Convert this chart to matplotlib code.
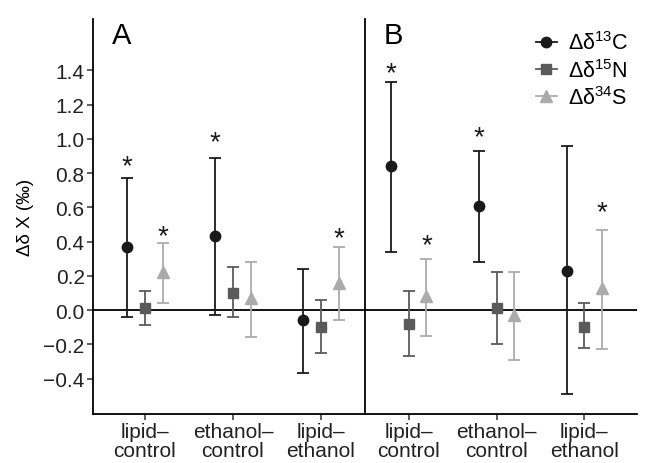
import numpy as np
import matplotlib
matplotlib.use("Agg")
import matplotlib.pyplot as plt
from matplotlib.lines import Line2D

plt.rcParams["font.family"] = ["Liberation Sans", "DejaVu Sans"]
plt.rcParams["mathtext.fontset"] = "custom"
plt.rcParams["mathtext.rm"] = "Liberation Sans"

# categories and series
categories = ["lipid\u2013\ncontrol", "ethanol\u2013\ncontrol", "lipid\u2013\nethanol"]
isotopes = ["C", "N", "S"]
labels = ["\u0394\u03b4$^{13}$C", "\u0394\u03b4$^{15}$N", "\u0394\u03b4$^{34}$S"]

# panel A: mean, lower, upper per isotope and category
a_mean = {"C": [0.37, 0.43, -0.06], "N": [0.01, 0.10, -0.10], "S": [0.22, 0.07, 0.16]}
a_low = {"C": [-0.04, -0.03, -0.37], "N": [-0.09, -0.04, -0.25], "S": [0.04, -0.16, -0.06]}
a_high = {"C": [0.77, 0.89, 0.24], "N": [0.11, 0.25, 0.06], "S": [0.39, 0.28, 0.37]}

# panel B
b_mean = {"C": [0.84, 0.61, 0.23], "N": [-0.08, 0.01, -0.10], "S": [0.08, -0.03, 0.13]}
b_low = {"C": [0.34, 0.28, -0.49], "N": [-0.27, -0.20, -0.22], "S": [-0.15, -0.29, -0.23]}
b_high = {"C": [1.33, 0.93, 0.96], "N": [0.11, 0.22, 0.04], "S": [0.30, 0.22, 0.47]}

# significance stars: (isotope, category index, y)
a_stars = [("C", 0, 0.89), ("S", 0, 0.48), ("C", 1, 1.03), ("S", 2, 0.47)]
b_stars = [("C", 0, 1.43), ("S", 0, 0.43), ("C", 1, 1.06), ("S", 2, 0.62)]

colors = {"C": "#1a1a1a", "N": "#5a5a5a", "S": "#ababab"}
markers = {"C": "o", "N": "s", "S": "^"}
msize = {"C": 7.5, "N": 7, "S": 8}
offsets = {"C": -0.2, "N": 0.0, "S": 0.2}

fig = plt.figure(figsize=(6.45, 4.64), dpi=100)
ax_a = fig.add_axes([93 / 645, 1 - 415 / 464, 272 / 645, 395 / 464])
ax_b = fig.add_axes([365 / 645, 1 - 415 / 464, 272 / 645, 395 / 464])

x = np.arange(1, len(categories) + 1)


def draw_panel(ax, means, lows, highs, stars, letter, xlim):
    ax.axhline(0, color="black", lw=1.3, zorder=1)
    for iso in isotopes:
        m = np.array(means[iso])
        lo = m - np.array(lows[iso])
        hi = np.array(highs[iso]) - m
        ax.errorbar(x + offsets[iso], m, yerr=[lo, hi], fmt=markers[iso],
                    color=colors[iso], ms=msize[iso], elinewidth=1.3,
                    capsize=4, capthick=1.3, zorder=3)
    for iso, ci, sy in stars:
        ax.annotate("*", (x[ci] + offsets[iso], sy), xytext=(0, -11),
                    textcoords="offset points", ha="center", va="baseline",
                    fontsize=20, color="#1a1a1a")
    ax.text(0.07, 0.995, letter, transform=ax.transAxes, fontsize=21,
            ha="left", va="top")
    ax.set_xlim(*xlim)
    ax.set_ylim(-0.607, 1.70)
    ax.set_xticks(x)
    ax.set_xticklabels(categories, fontsize=15, linespacing=1.0,
                       color="#222222")
    for s in ["top", "right"]:
        ax.spines[s].set_visible(False)
    for s in ["left", "bottom"]:
        ax.spines[s].set_linewidth(1.3)
    ax.tick_params(axis="x", length=4, width=1.1, pad=2, color="#333333")


draw_panel(ax_a, a_mean, a_low, a_high, a_stars, "A", (0.41, 3.5))
draw_panel(ax_b, b_mean, b_low, b_high, b_stars, "B", (0.5, 3.6))

ax_a.set_yticks([-0.4, -0.2, 0.0, 0.2, 0.4, 0.6, 0.8, 1.0, 1.2, 1.4])
ax_a.set_yticklabels([f"{v:.1f}".replace("-", "\u2212") for v in ax_a.get_yticks()],
                     fontsize=15, color="#222222")
ax_a.tick_params(axis="y", length=4, width=1.1, pad=2, color="#333333")
ax_a.set_ylabel("\u0394\u03b4 X (\u2030)", fontsize=13.5, labelpad=7)

ax_b.tick_params(axis="y", left=False, labelleft=False)

handles = [Line2D([0], [0], color=colors[i], marker=markers[i], ms=msize[i], lw=1.3)
           for i in isotopes]
ax_b.legend(handles, labels, loc="upper right", frameon=False, fontsize=15.5,
            handlelength=1.0, handletextpad=0.5, labelspacing=0.2,
            borderaxespad=0.0, bbox_to_anchor=(1.0, 0.99))

fig.savefig("out.png", dpi=100)
